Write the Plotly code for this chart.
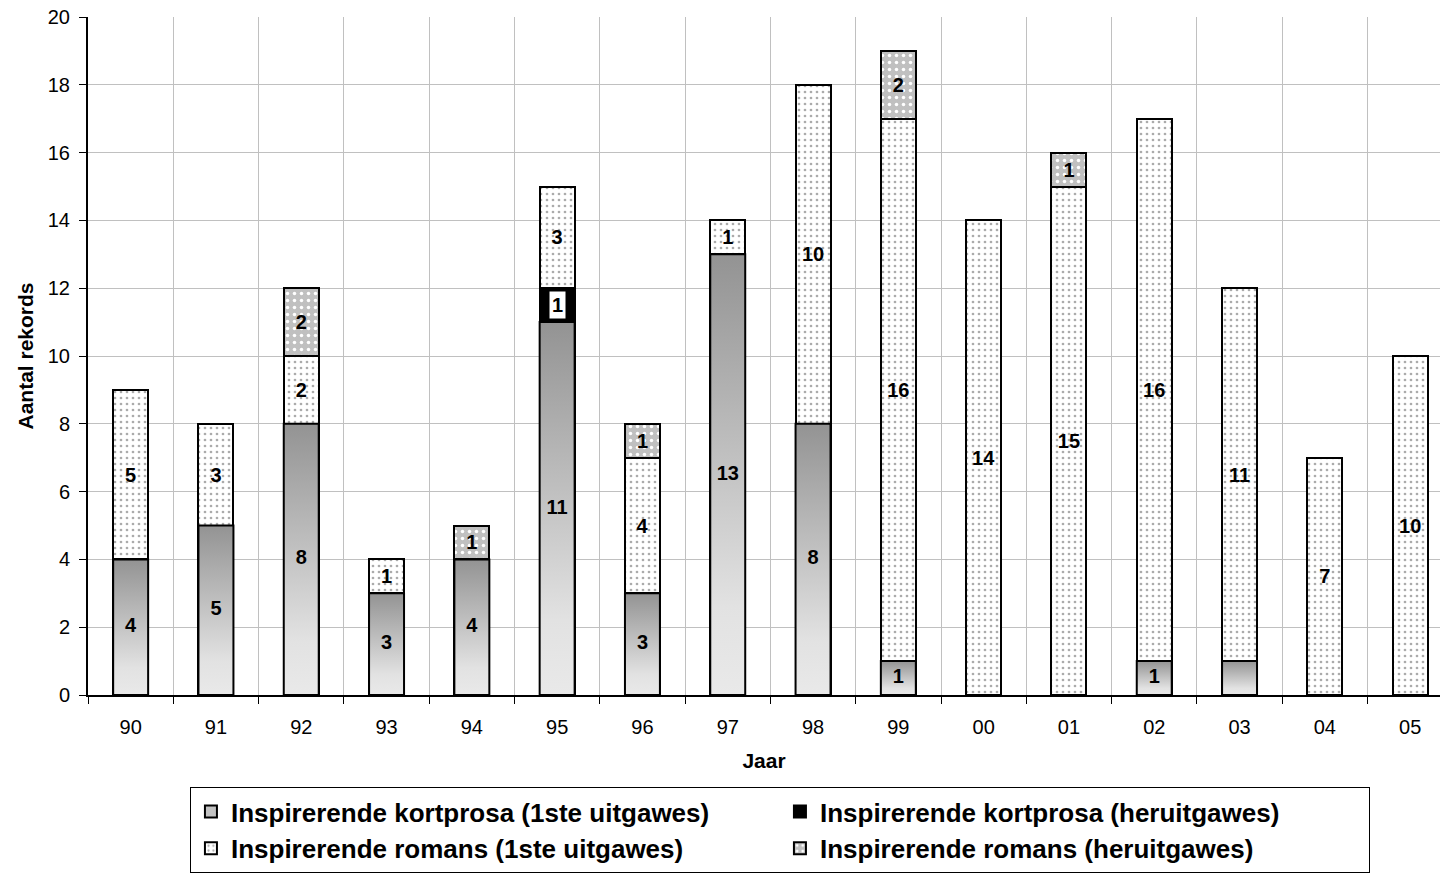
import plotly.graph_objects as go

# Publication counts per year
years = ["90", "91", "92", "93", "94", "95", "96", "97",
         "98", "99", "00", "01", "02", "03", "04", "05"]
kortprosa_1ste = [4, 5, 8, 3, 4, 11, 3, 13, 8, 1, 0, 0, 1, 1, 0, 0]
kortprosa_her = [0, 0, 0, 0, 0, 1, 0, 0, 0, 0, 0, 0, 0, 0, 0, 0]
romans_1ste = [5, 3, 2, 1, 0, 3, 4, 1, 10, 16, 14, 15, 16, 11, 7, 10]
romans_her = [0, 0, 2, 0, 1, 0, 1, 0, 0, 2, 0, 1, 0, 0, 0, 0]
unlabelled_kortprosa = ["03"]

FONT = "Arial, Liberation Sans, sans-serif"
BAR_W = 0.41
OUTLINE = dict(color="black", width=2)
LABEL_FONT = dict(family=FONT, size=20, color="black", weight="bold")
x_idx = list(range(len(years)))


def nz(vals):
    return [v if v else None for v in vals]


def labels(vals):
    return [str(v) if v else "" for v in vals]


fig = go.Figure()

# Stacked bars (kortprosa base is repainted with a gradient below)
fig.add_trace(go.Bar(
    x=x_idx, y=nz(kortprosa_1ste), width=BAR_W,
    name="Inspirerende kortprosa (1ste uitgawes)",
    marker=dict(color="#c2c2c2", line=OUTLINE),
    textposition="none", hoverinfo="skip",
))
fig.add_trace(go.Bar(
    x=x_idx, y=nz(kortprosa_her), width=BAR_W,
    name="Inspirerende kortprosa (heruitgawes)",
    marker=dict(color="black", line=OUTLINE),
    textposition="none",
))
fig.add_trace(go.Bar(
    x=x_idx, y=nz(romans_1ste), width=BAR_W,
    name="Inspirerende romans (1ste uitgawes)",
    marker=dict(color="white", line=OUTLINE,
                pattern=dict(shape=".", bgcolor="white", fgcolor="#ababab",
                             size=6, solidity=0.16, fillmode="replace")),
    text=labels(romans_1ste), textposition="inside", insidetextanchor="middle",
    textangle=0, constraintext="none", textfont=LABEL_FONT,
))
fig.add_trace(go.Bar(
    x=x_idx, y=nz(romans_her), width=BAR_W,
    name="Inspirerende romans (heruitgawes)",
    marker=dict(color="#c0c0c0", line=OUTLINE,
                pattern=dict(shape=".", bgcolor="#c0c0c0", fgcolor="white",
                             size=7, solidity=0.2, fillmode="replace")),
    text=labels(romans_her), textposition="inside", insidetextanchor="middle",
    textangle=0, constraintext="none", textfont=LABEL_FONT,
))

# Gradient fill for the kortprosa (1ste uitgawes) segments
for i, v in zip(x_idx, kortprosa_1ste):
    if not v:
        continue
    fig.add_trace(go.Scatter(
        x=[i - BAR_W / 2, i + BAR_W / 2, i + BAR_W / 2, i - BAR_W / 2, i - BAR_W / 2],
        y=[0, 0, v, v, 0],
        mode="lines", fill="toself",
        fillgradient=dict(type="vertical",
                          colorscale=[[0, "#e9e9e9"], [0.2, "#e2e2e2"], [1, "#939393"]]),
        line=OUTLINE, showlegend=False, hoverinfo="skip",
    ))

# Kortprosa labels centred in each segment
kp_text = [str(v) if v and y not in unlabelled_kortprosa else ""
           for y, v in zip(years, kortprosa_1ste)]
fig.add_trace(go.Scatter(
    x=x_idx, y=[v / 2 for v in kortprosa_1ste], mode="text", text=kp_text,
    textfont=LABEL_FONT, showlegend=False, hoverinfo="skip",
))

# Reprint label on black segment, boxed in white
for i, (base, v) in enumerate(zip(kortprosa_1ste, kortprosa_her)):
    if v:
        fig.add_annotation(
            x=i, y=base + v / 2, text=f"<b>{v}</b>", showarrow=False,
            bgcolor="white", borderpad=2,
            font=dict(family=FONT, size=20, color="black"),
        )

fig.update_layout(
    width=1440, height=874,
    margin=dict(l=88, r=0, t=17, b=179, autoexpand=False),
    paper_bgcolor="white", plot_bgcolor="white",
    barmode="stack",
    font=dict(family=FONT, color="black"),
    showlegend=True,
    legend=dict(
        orientation="h", x=0.0754, y=-0.1357, xanchor="left", yanchor="top",
        bordercolor="black", borderwidth=1, bgcolor="white",
        font=dict(family=FONT, size=26, color="black", weight="bold"),
        entrywidth=544, entrywidthmode="pixels", traceorder="normal",
    ),
    xaxis=dict(
        range=[-0.5, 15.35], automargin=False,
        tickmode="array", tickvals=x_idx, ticktext=years,
        ticks="outside", ticklen=13, tickcolor="rgba(0,0,0,0)",
        tickfont=dict(family=FONT, size=20, color="black"),
        showgrid=False, zeroline=False,
        showline=True, linecolor="black", linewidth=2,
        minor=dict(tickmode="array", tickvals=[i - 0.5 for i in range(len(years) + 1)],
                   ticks="outside", ticklen=7, tickcolor="black", tickwidth=1,
                   showgrid=True, gridcolor="#c0c0c0", gridwidth=1),
        title=dict(text="<b>Jaar</b>", font=dict(family=FONT, size=21, color="black"),
                   standoff=16),
    ),
    yaxis=dict(
        range=[0, 20], dtick=2, tick0=0, automargin=False,
        ticks="outside", ticklen=7, tickcolor="black", ticklabelstandoff=5,
        tickfont=dict(family=FONT, size=20, color="black"),
        showgrid=True, gridcolor="#c0c0c0", gridwidth=1, zeroline=False,
        showline=True, linecolor="black", linewidth=2,
        title=dict(text="<b>Aantal rekords</b>", font=dict(family=FONT, size=21, color="black"),
                   standoff=8),
    ),
)

fig.write_html("out.html")
